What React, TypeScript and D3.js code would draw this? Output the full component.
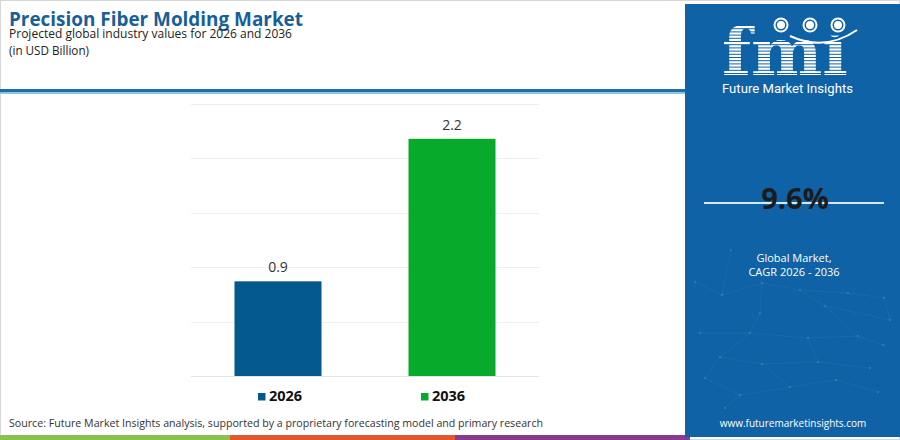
import { useMemo } from "react";
import * as d3 from "d3";

// chart values
const categories = ["2026", "2036"];
const values = [0.87, 2.18];
const barColors = ["#03588c", "#08aa2c"];
const gridTicks = [0, 0.5, 1, 1.5, 2, 2.5];
const cagr = "9.6%";

// decorative network in the side panel
const netPoints: [number, number][] = [
  [731, 250], [695, 282], [722, 295], [762, 283], [800, 290], [848, 293],
  [884, 298], [760, 313], [825, 306], [890, 320], [700, 333], [750, 333],
  [808, 338], [858, 336], [883, 345], [720, 357], [762, 364], [818, 362],
  [870, 368], [705, 378], [740, 395], [790, 387], [836, 380], [878, 392],
  [725, 408],
];
const netEdges: [number, number][] = [
  [0, 2], [1, 2], [2, 3], [3, 4], [4, 5], [5, 6], [3, 7], [4, 8], [8, 9],
  [7, 11], [10, 11], [11, 12], [12, 13], [13, 14], [11, 15], [15, 16],
  [16, 17], [17, 18], [15, 19], [19, 20], [20, 21], [21, 22], [22, 23],
  [16, 21], [8, 13], [20, 24], [12, 17], [6, 9],
];

const App = () => {
  const width = 900;
  const height = 440;

  const x = useMemo(
    () =>
      d3
        .scaleBand()
        .domain(categories)
        .range([191, 539])
        .paddingInner(0.5)
        .paddingOuter(0.25),
    []
  );

  const y = useMemo(
    () => d3.scaleLinear().domain([0, 2.5]).range([376, 104]),
    []
  );

  const fmt = d3.format(".1f");
  const legendX = [258, 421];

  // horizontal stripes over the logo letters
  const stripes = d3.range(23, 78, 3.2);

  return (
    <div style={{ position: "absolute", left: 0, top: 0 }}>
      <svg width={width} height={height} style={{ display: "block" }}>
        <rect x={0} y={0} width={width} height={height} fill="#fff" />
        <rect x={0.5} y={0.5} width={width - 1} height={height - 1} fill="none" stroke="#d6d6d6" />

        {/* header */}
        <text
          x={9}
          y={26}
          fill="#175f99"
          fontFamily="'Open Sans', sans-serif"
          fontWeight={700}
          fontSize={20}
          textLength={294}
          lengthAdjust="spacingAndGlyphs"
        >
          Precision Fiber Molding Market
        </text>
        <text
          x={9}
          y={38}
          fill="#222"
          fontFamily="'Open Sans', sans-serif"
          fontSize={12.5}
          textLength={283}
          lengthAdjust="spacingAndGlyphs"
        >
          Projected global industry values for 2026 and 2036
        </text>
        <text
          x={9}
          y={55}
          fill="#222"
          fontFamily="'Open Sans', sans-serif"
          fontSize={12.5}
          textLength={80}
          lengthAdjust="spacingAndGlyphs"
        >
          (in USD Billion)
        </text>
        <rect x={0} y={89} width={686} height={3.5} fill="#1f6ea7" />
        <rect x={0} y={92.5} width={686} height={1.5} fill="#8cc8ee" />

        {/* grid */}
        {gridTicks.map((t) => (
          <line
            key={t}
            x1={191}
            x2={539}
            y1={Math.round(y(t)) + 0.5}
            y2={Math.round(y(t)) + 0.5}
            stroke={t === 0 ? "#e4e4e4" : "#efefef"}
            strokeWidth={1}
          />
        ))}

        {/* bars */}
        {categories.map((c, i) => (
          <g key={c}>
            <rect
              x={x(c)}
              y={y(values[i])}
              width={x.bandwidth()}
              height={y(0) - y(values[i])}
              fill={barColors[i]}
            />
            <text
              x={(x(c) ?? 0) + x.bandwidth() / 2}
              y={y(values[i]) - 9}
              textAnchor="middle"
              fill="#333"
              fontFamily="'Open Sans', sans-serif"
              fontSize={14}
            >
              {fmt(values[i])}
            </text>
          </g>
        ))}

        {/* legend */}
        {categories.map((c, i) => (
          <g key={"lg" + c}>
            <rect x={legendX[i]} y={393} width={7.5} height={7.5} fill={barColors[i]} />
            <text
              x={legendX[i] + 11}
              y={401}
              fill="#111"
              fontFamily="'Open Sans', sans-serif"
              fontWeight={700}
              fontSize={14.5}
            >
              {c}
            </text>
          </g>
        ))}

        {/* source */}
        <text
          x={9}
          y={427}
          fill="#333"
          fontFamily="'Open Sans', sans-serif"
          fontSize={11.5}
          textLength={534}
          lengthAdjust="spacingAndGlyphs"
        >
          Source: Future Market Insights analysis, supported by a proprietary forecasting model and primary research
        </text>
        <rect x={0} y={435} width={230} height={5} fill="#8cc152" />
        <rect x={230} y={435} width={225} height={5} fill="#e0582c" />
        <rect x={455} y={435} width={235} height={5} fill="#8a3a8c" />

        {/* side panel */}
        <rect x={685} y={4} width={215} height={433} fill="#0f62a5" />
        <g stroke="#3f88c2" strokeOpacity={0.3} strokeWidth={0.7}>
          {netEdges.map(([a, b], i) => (
            <line
              key={i}
              x1={netPoints[a][0]}
              y1={netPoints[a][1]}
              x2={netPoints[b][0]}
              y2={netPoints[b][1]}
            />
          ))}
        </g>
        <g fill="#4f93c9" fillOpacity={0.4}>
          {netPoints.map((p, i) => (
            <circle key={i} cx={p[0]} cy={p[1]} r={1.3} />
          ))}
        </g>

        {/* logo */}
        <text
          x={722}
          y={75}
          fill="#fff"
          fontFamily="'DejaVu Serif', serif"
          fontWeight={700}
          fontSize={66}
          textLength={126}
          lengthAdjust="spacingAndGlyphs"
        >
          fmi
        </text>
        {stripes.map((s) => (
          <rect key={s} x={718} y={s + 2} width={135} height={1} fill="#0f62a5" />
        ))}
        <rect x={826} y={16} width={24} height={19} fill="#0f62a5" />
        <path d="M790,36 Q825,52 857,30" fill="none" stroke="#fff" strokeWidth={2} />
        {[781, 810, 838].map((cx) => (
          <g key={cx}>
            <circle cx={cx} cy={25} r={7.5} fill="#fff" />
            <circle cx={cx} cy={25} r={5.5} fill="#0f62a5" />
            <circle cx={cx} cy={25} r={4} fill="#fff" />
          </g>
        ))}
        <text
          x={722}
          y={93}
          fill="#fff"
          fontFamily="Roboto, sans-serif"
          fontSize={13.5}
          textLength={131}
          lengthAdjust="spacingAndGlyphs"
        >
          Future Market Insights
        </text>

        {/* CAGR */}
        <line x1={704} x2={884} y1={203} y2={203} stroke="#d5e7f5" strokeWidth={2} />
        <text
          x={795}
          y={209}
          textAnchor="middle"
          fill="#1b1b1b"
          fontFamily="'Open Sans', sans-serif"
          fontWeight={700}
          fontSize={29}
        >
          {cagr}
        </text>
        <text
          x={794}
          y={262}
          textAnchor="middle"
          fill="#fff"
          fontFamily="'Open Sans', sans-serif"
          fontSize={11}
        >
          Global Market,
        </text>
        <text
          x={794}
          y={276}
          textAnchor="middle"
          fill="#fff"
          fontFamily="'Open Sans', sans-serif"
          fontSize={11}
        >
          CAGR 2026 - 2036
        </text>
        <text
          x={793}
          y={427}
          textAnchor="middle"
          fill="#fff"
          fontFamily="'Open Sans', sans-serif"
          fontSize={10}
        >
          www.futuremarketinsights.com
        </text>
      </svg>
    </div>
  );
};

export default App;
